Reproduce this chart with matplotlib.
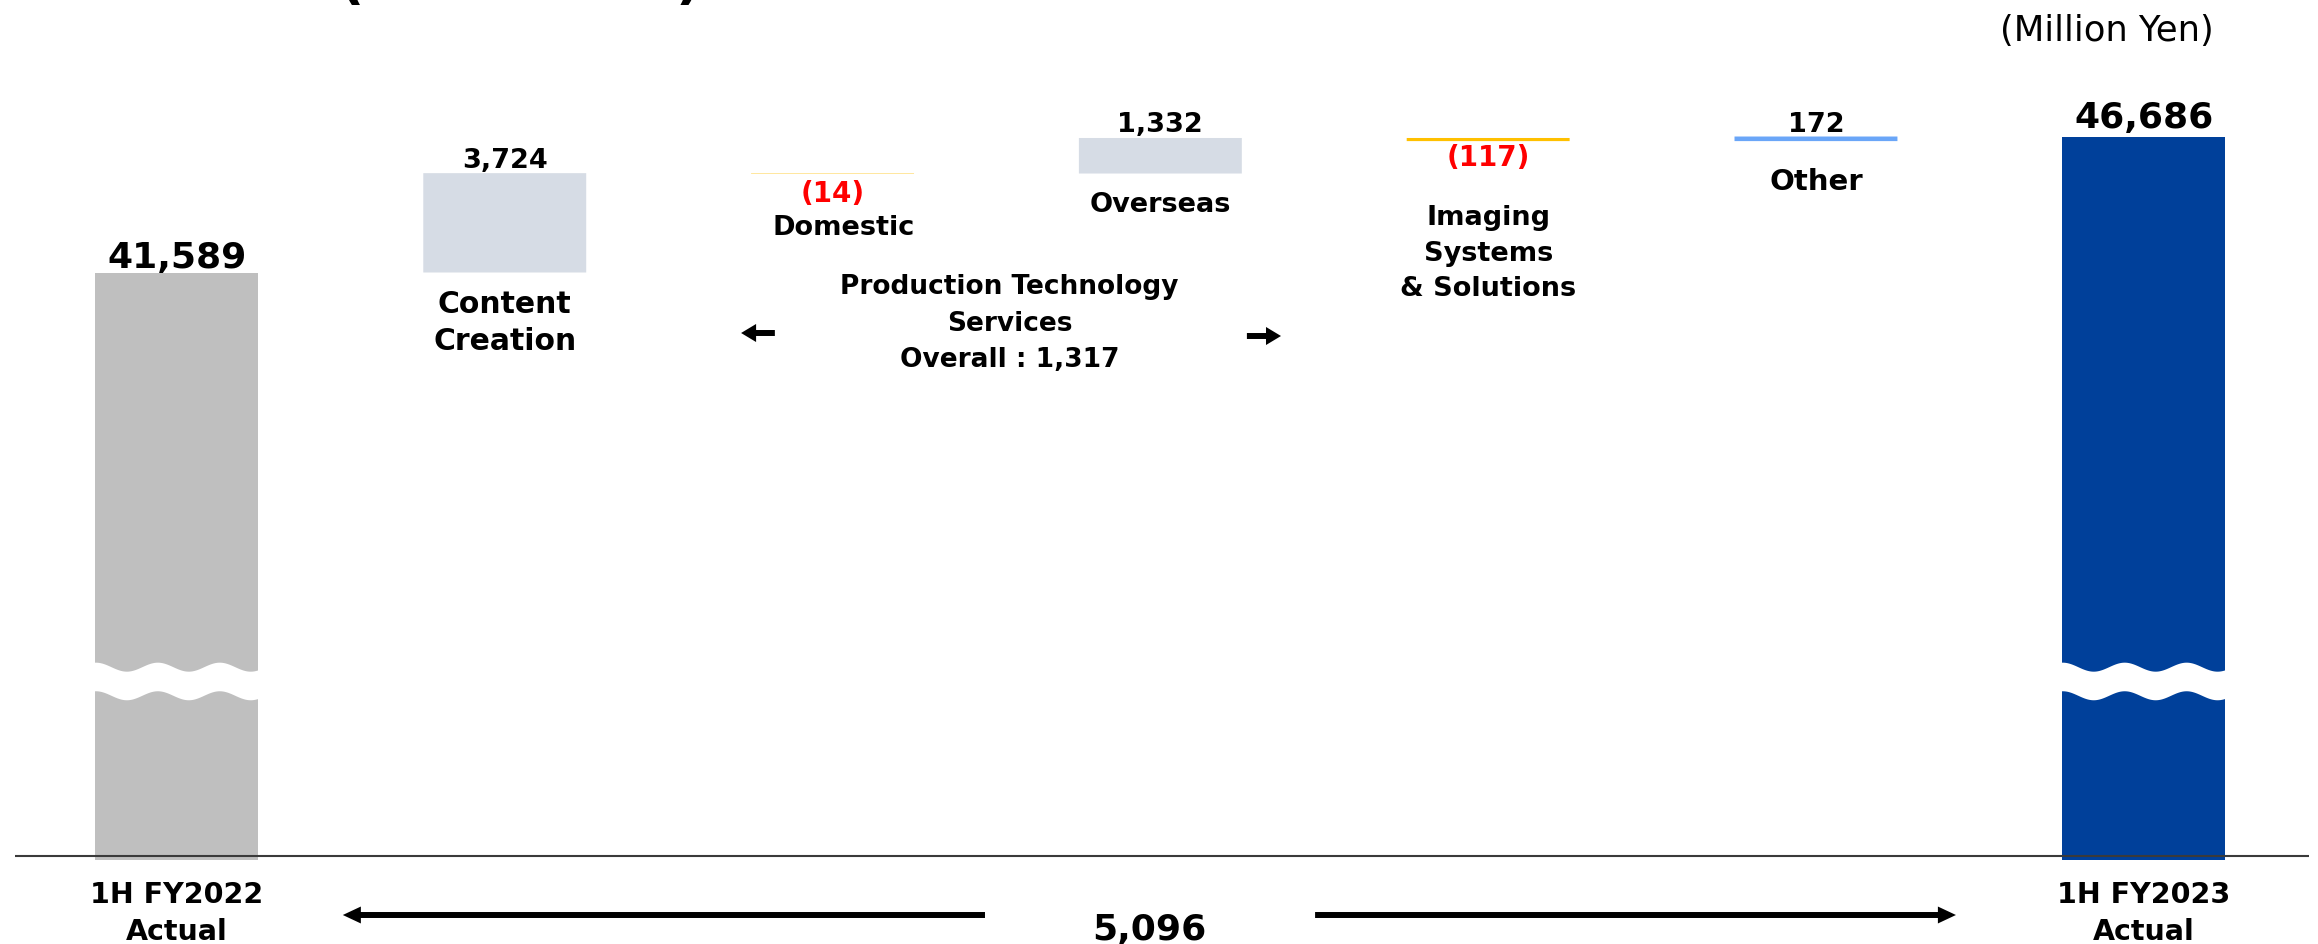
"""
Net sales bridge 1H FY2022 -> 1H FY2023, by segment (waterfall chart).
"""

import matplotlib
matplotlib.use("Agg")
import matplotlib.pyplot as plt
import numpy as np

# ------------------------------------------------------------------ #
# Data (million yen)
# ------------------------------------------------------------------ #
start_label = "1H FY2022\nActual"
end_label = "1H FY2023\nActual"
start_value = 41589
end_value = 46686

segments = ["Content\nCreation", "Domestic", "Overseas",
            "Imaging\nSystems\n& Solutions", "Other"]
changes = [3724, -14, 1332, -117, 172]
change_colors = ["#D6DCE5", "#FFC000", "#D6DCE5", "#FFC000", "#6AA6F8"]

group_label = "Production Technology\nServices\nOverall : 1,317"
total_change = 5096
unit_label = "(Million Yen)"

# ------------------------------------------------------------------ #
# Layout (pixels, figure is 2318 x 945 at 100 dpi)
# ------------------------------------------------------------------ #
W, H, DPI = 2318, 945, 100
AX_BOTTOM_PX = 861          # bars run down to here
Y_LIM = (19570, 51840)      # truncated value axis
X_LIM = (-0.494, 6.504)
BAR_W = 0.497
BREAK_Y = 26280             # where the wavy break sits

# label offsets in pixels from bar top (+) / bar bottom (-);
# multi-line labels are anchored on the baseline of their last line
value_dy = [6, -27, 7, -24, 6]
value_size = [19.5, 20, 19.5, 20, 19.5]
cat_dx = [0, 11, 0, 0, 0]
cat_dy = [-76.5, -60.5, -37, -154, -48]
cat_size = [21.5, 19.5, 19.5, 19.5, 21]
cat_ls = [1.35, 1.2, 1.2, 1.48, 1.2]

plt.rcParams["font.family"] = ["DejaVu Sans"]

fig = plt.figure(figsize=(W / DPI, H / DPI), dpi=DPI)
ax = fig.add_axes([15 / W, (H - AX_BOTTOM_PX) / H, (2309 - 15) / W, AX_BOTTOM_PX / H])
ax.set_xlim(*X_LIM)
ax.set_ylim(*Y_LIM)
ax.axis("off")
upp = (Y_LIM[1] - Y_LIM[0]) / AX_BOTTOM_PX   # value per pixel

n = len(segments)
x_end = n + 1

# ------------------------------------------------------------------ #
# Bars
# ------------------------------------------------------------------ #
ax.bar(0, start_value, width=BAR_W, color="#BFBFBF", zorder=2)
ax.bar(x_end, end_value, width=BAR_W, color="#00409A", zorder=2)

levels = start_value + np.cumsum([0] + changes)
for i, (chg, col) in enumerate(zip(changes, change_colors)):
    ax.bar(i + 1, chg, bottom=levels[i], width=BAR_W, color=col,
           snap=False, lw=0, zorder=2)

# baseline, a few px above the bar ends
ax.axhline(Y_LIM[0] + 4 * upp, color="#3a3a3a", lw=1.5, zorder=3)


def draw_break(xc):
    xs = np.linspace(xc - BAR_W / 2 - 0.01, xc + BAR_W / 2 + 0.01, 300)
    t = (xs - (xc - BAR_W / 2)) / BAR_W
    wave = 4.5 * upp * np.cos(2 * np.pi * t / 0.38)
    half = 14.3 * upp
    ax.fill_between(xs, BREAK_Y - half + wave, BREAK_Y + half + wave,
                    color="white", lw=0, zorder=4)


draw_break(0)
draw_break(x_end)


# ------------------------------------------------------------------ #
# Labels
# ------------------------------------------------------------------ #
def label(x, y, text, dy, size, dx=0, color="black", weight="bold", ls=1.2):
    ax.annotate(text, (x, y), xytext=(dx, dy), textcoords="offset pixels",
                ha="center", va="baseline", fontsize=size, color=color,
                fontweight=weight, linespacing=ls, annotation_clip=False)


label(0, start_value, f"{start_value:,}", 5.5, 26)
label(x_end, end_value, f"{end_value:,}", 9.5, 26)

for i, chg in enumerate(changes):
    lo, hi = sorted([levels[i], levels[i + 1]])
    if chg >= 0:
        label(i + 1, hi, f"{chg:,}", value_dy[i], value_size[i])
    else:
        label(i + 1, lo, f"({abs(chg):,})", value_dy[i], value_size[i], color="#FF0000")
    label(i + 1, lo, segments[i], cat_dy[i], cat_size[i], dx=cat_dx[i], ls=cat_ls[i])

# group caption between Domestic and Overseas
ax.annotate(group_label, (2.54, H - 367), xycoords=("data", "figure pixels"),
            ha="center", va="baseline", fontsize=19, fontweight="bold",
            linespacing=1.52, annotation_clip=False)
small_arrow = dict(arrowstyle="simple,head_length=1.08,head_width=1.3,tail_width=0.43",
                   mutation_scale=10, fc="black", ec="black", lw=0,
                   shrinkA=0, shrinkB=0)
ax.annotate("", xy=(1.721, H - 334), xytext=(1.824, H - 334),
            xycoords=("data", "figure pixels"), arrowprops=small_arrow,
            annotation_clip=False)
ax.annotate("", xy=(3.368, H - 337), xytext=(3.264, H - 337),
            xycoords=("data", "figure pixels"), arrowprops=small_arrow,
            annotation_clip=False)

# bottom: period labels, total change and long arrows
for xp, txt in [(0, start_label), (x_end, end_label)]:
    ax.annotate(txt, (xp, H - 940), xycoords=("data", "figure pixels"),
                ha="center", va="baseline", fontsize=20.5, fontweight="bold",
                linespacing=1.42, annotation_clip=False)

ax.annotate(f"{total_change:,}", (2.965, H - 940), xycoords=("data", "figure pixels"),
            ha="center", va="baseline", fontsize=26, fontweight="bold",
            annotation_clip=False)
long_arrow = dict(arrowstyle="simple,head_length=1.3,head_width=1.22,tail_width=0.43",
                  mutation_scale=10, fc="black", ec="black", lw=0,
                  shrinkA=0, shrinkB=0)
ax.annotate("", xy=(0.506, H - 916), xytext=(2.465, H - 916),
            xycoords=("data", "figure pixels"), arrowprops=long_arrow,
            annotation_clip=False)
ax.annotate("", xy=(5.427, H - 916), xytext=(3.472, H - 916),
            xycoords=("data", "figure pixels"), arrowprops=long_arrow,
            annotation_clip=False)

fig.text(2214 / W, (H - 41) / H, unit_label, ha="right", va="baseline",
         fontsize=25.5)

# slide title sits above the crop; only the bottoms of its brackets show
fig.text(338 / W, (H + 2) / H, "(", ha="left", va="baseline",
         fontsize=40, fontweight="bold")
fig.text(676 / W, (H + 2) / H, ")", ha="left", va="baseline",
         fontsize=40, fontweight="bold")

fig.savefig("out.png", dpi=DPI)
plt.close(fig)
